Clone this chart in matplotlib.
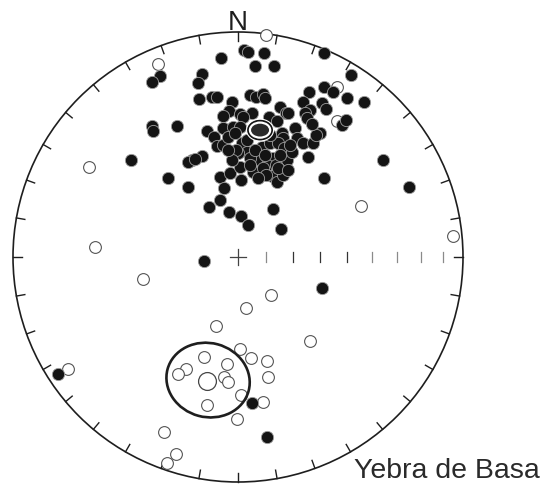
import matplotlib
matplotlib.use("Agg")
import matplotlib.pyplot as plt
import numpy as np
from matplotlib.patches import Circle, Ellipse

# equal-area projected positions (unit primitive circle, x east, y north)
normal_x = [0.027, 0.044, 0.116, -0.076, 0.076, 0.160, 0.382, 0.502, -0.160, -0.178,
            -0.347, -0.382, -0.173, -0.116, -0.093, 0.053, 0.080, 0.111, 0.120, -0.027,
            0.382, 0.422, 0.316, 0.484, 0.560, 0.289, 0.373, 0.391, 0.320, 0.298,
            0.307, 0.187, 0.213, -0.040, -0.067, 0.009, 0.062, 0.462, 0.480, -0.382,
            -0.378, -0.271, -0.138, -0.067, -0.022, -0.107, -0.093, -0.067, 0.138, 0.173,
            0.196, 0.200, 0.253, 0.262, 0.289, 0.333, 0.364, 0.347, 0.311, -0.476,
            -0.204, -0.222, -0.160, -0.311, -0.222, -0.080, -0.036, 0.013, 0.067, 0.151,
            0.173, 0.200, 0.382, -0.062, -0.080, -0.129, -0.040, 0.013, 0.044, 0.156,
            0.191, 0.644, 0.760, -0.151, 0.373, -0.800, 0.062, 0.129, 0.018, 0.040,
            0.107, 0.098, 0.156, 0.218, 0.009, 0.129, 0.169, 0.142, 0.178, 0.000,
            0.040, -0.044, -0.009, 0.053, 0.111, 0.178, 0.124, 0.222, 0.222, 0.329,
            0.022, -0.191, 0.204, 0.240, 0.009, 0.076, 0.120, 0.187, 0.053, 0.089,
            -0.027, -0.044, 0.231, 0.142, -0.013]
normal_y = [0.920, 0.911, 0.907, 0.884, 0.849, 0.849, 0.907, 0.809, 0.813, 0.773,
            0.804, 0.778, 0.702, 0.711, 0.711, 0.720, 0.711, 0.724, 0.707, 0.689,
            0.756, 0.733, 0.733, 0.707, 0.689, 0.689, 0.684, 0.658, 0.653, 0.640,
            0.618, 0.667, 0.640, 0.649, 0.627, 0.636, 0.640, 0.587, 0.609, 0.582,
            0.560, 0.582, 0.560, 0.573, 0.578, 0.533, 0.493, 0.498, 0.622, 0.604,
            0.551, 0.529, 0.573, 0.529, 0.507, 0.507, 0.551, 0.542, 0.444, 0.431,
            0.431, 0.422, 0.449, 0.351, 0.311, 0.356, 0.373, 0.342, 0.378, 0.360,
            0.333, 0.364, 0.351, 0.307, 0.253, 0.222, 0.200, 0.182, 0.142, 0.213,
            0.124, 0.431, 0.311, -0.018, -0.138, -0.520, -0.649, -0.800, 0.507, 0.467,
            0.489, 0.431, 0.440, 0.431, 0.400, 0.409, 0.409, 0.507, 0.507, 0.462,
            0.520, 0.533, 0.476, 0.440, 0.396, 0.396, 0.364, 0.387, 0.640, 0.591,
            0.622, 0.436, 0.484, 0.467, 0.578, 0.476, 0.453, 0.453, 0.409, 0.351,
            0.431, 0.476, 0.498, 0.542, 0.551]

reverse_x = [0.124, -0.356, 0.440, 0.440, -0.662, 0.547, 0.956, -0.636, -0.422, 0.147,
             0.036, -0.098, 0.320, 0.009, 0.058, 0.129, -0.151, -0.049, -0.231, -0.267,
             -0.062, -0.044, 0.133, 0.013, 0.111, -0.138, -0.004, -0.329, -0.276, -0.316,
             -0.756]
reverse_y = [0.987, 0.858, 0.756, 0.604, 0.400, 0.227, 0.093, 0.044, -0.098, -0.169,
             -0.227, -0.307, -0.373, -0.409, -0.449, -0.462, -0.444, -0.476, -0.498, -0.520,
             -0.533, -0.556, -0.533, -0.613, -0.644, -0.658, -0.720, -0.778, -0.876, -0.916,
             -0.498]

# site means and reverse cone of confidence
normal_mean = (0.098, 0.564)
reverse_mean = (-0.138, -0.551)
reverse_cone = (-0.133, -0.547, 0.373, 0.329, -15)

# equal-area scale along the E axis
scale_deg = [10, 20, 30, 40, 50, 60, 70, 80]

CX, CY, R = 238, 257, 225
W, H = 541, 484

fig = plt.figure(figsize=(W / 100, H / 100), dpi=100)
ax = fig.add_axes([0, 0, 1, 1])
ax.set_xlim(-CX / R, (W - CX) / R)
ax.set_ylim((CY - H) / R, CY / R)
ax.set_aspect("equal")
ax.axis("off")

ink = "#1e1e1e"

# primitive circle and 10 degree ticks
ax.add_patch(Circle((0, 0), 1, fill=False, ec=ink, lw=1.2, zorder=1))
for az in np.radians(np.arange(0, 360, 10)):
    s, c = np.sin(az), np.cos(az)
    ax.plot([s, 0.962 * s], [c, 0.962 * c], color=ink, lw=1.0, zorder=1)

# centre cross and scale
ax.plot([-0.036, 0.036], [0, 0], color="#444444", lw=0.9)
ax.plot([0, 0], [-0.036, 0.036], color="#444444", lw=0.9)
for d in scale_deg:
    r = np.sqrt(2) * np.sin(np.radians(d) / 2)
    col = "#333333" if d in (20, 30, 40) else "#8a8a8a"
    ax.plot([r, r], [-0.024, 0.024], color=col, lw=0.9)

# data
ax.scatter(reverse_x, reverse_y, s=72, facecolor="white", edgecolor="#555555",
           linewidths=0.8, zorder=3)
ax.scatter(normal_x, normal_y, s=78, facecolor="#141414", edgecolor="#a0a0a0",
           linewidths=0.6, zorder=4)

# normal mean with its small cone
mx, my = normal_mean
ax.add_patch(Ellipse((mx, my), 0.120, 0.097, fc="#141414", ec="white", lw=0.8, zorder=5))
ax.add_patch(Ellipse((mx, my), 0.100, 0.077, fc="white", ec="none", zorder=5))
ax.add_patch(Ellipse((mx, my), 0.080, 0.057, fc="#2a2a2a", ec="none", zorder=5))

# reverse mean and cone
ax.scatter([reverse_mean[0]], [reverse_mean[1]], s=165, facecolor="white",
           edgecolor="#444444", linewidths=0.9, zorder=5)
ex, ey, ew, eh, ea = reverse_cone
ax.add_patch(Ellipse((ex, ey), ew, eh, angle=ea, fill=False, ec=ink, lw=1.9, zorder=6))

ax.text(0, 1.009, "N", ha="center", va="baseline", fontsize=20,
        family="Liberation Sans", color=ink)
ax.text((W - 1 - CX) / R, (CY - 478) / R, "Yebra de Basa", ha="right", va="baseline",
        fontsize=20.5, family="Liberation Sans", color="#2a2a2a")

fig.savefig("out.png", dpi=100)
